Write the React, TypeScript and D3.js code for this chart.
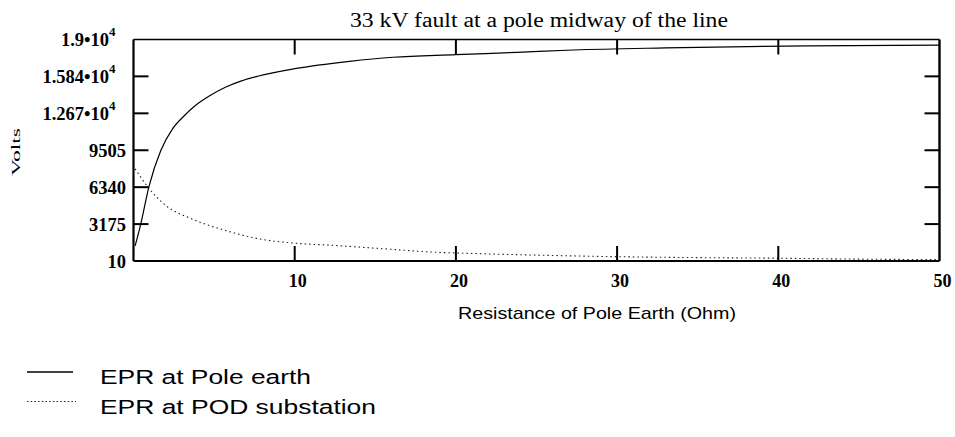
import React from "react";
import * as d3 from "d3";

// Resistance of pole earth (Ohm) vs EPR at pole earth (V)
const poleR = [0.1, 0.45, 0.95, 1.7, 2.4, 3.1, 3.8, 4.7, 5.7, 6.7, 7.7, 10, 13.4, 16.1, 20, 23.8, 27.3, 33, 41.8, 50];
const poleV = [1300, 3175, 6340, 9505, 11300, 12400, 13300, 14150, 14900, 15450, 15850, 16500, 17130, 17480, 17700, 17900, 18100, 18280, 18460, 18520];

// Resistance vs EPR at POD substation (V)
const podR = [0.1, 0.95, 2, 3.6, 5.7, 7.75, 10, 12.4, 15.5, 18.6, 21.7, 25.8, 30, 35, 40, 45, 50];
const podV = [7910, 6250, 4770, 3630, 2630, 1920, 1540, 1350, 1060, 770, 630, 490, 380, 300, 250, 170, 130];

const xTicks = [10, 20, 30, 40, 50];
const yTicks = [10, 3175, 6340, 9505, 12670, 15840, 19000];
const yTickBase = ["10", "3175", "6340", "9505", "1.267•10", "1.584•10", "1.9•10"];
const yTickExp = ["", "", "", "", "4", "4", "4"];

const title = "33 kV fault at a pole midway of the line";
const xTitle = "Resistance of Pole Earth (Ohm)";
const yTitle = "Volts";
const legendLabels = ["EPR at Pole earth", "EPR at POD substation"];

const SERIF = "'Liberation Serif', 'Times New Roman', serif";
const SANS = "'Liberation Sans', Arial, sans-serif";

export default function App() {
  const left = 133.5, right = 939.5, top = 39.5, bottom = 261;
  const x = d3.scaleLinear().domain([0, 50]).range([left, right]);
  const y = d3.scaleLinear().domain([10, 19000]).range([bottom, top]);

  const line = d3
    .line<[number, number]>()
    .x((d) => x(d[0]))
    .y((d) => y(d[1]))
    .curve(d3.curveMonotoneX);

  const poleData = poleR.map((r, i) => [r, poleV[i]] as [number, number]);
  const podData = podR.map((r, i) => [r, podV[i]] as [number, number]);
  const tickLen = 15;

  return (
    <svg
      width={955}
      height={437}
      style={{ position: "absolute", left: 0, top: 0, background: "#fff" }}
    >
      <rect x={0} y={0} width={955} height={437} fill="#fff" />
      {/* title */}
      <text
        x={539}
        y={27}
        textAnchor="middle"
        fontFamily={SERIF}
        fontSize={20}
        textLength={378}
        lengthAdjust="spacingAndGlyphs"
      >
        {title}
      </text>

      {/* curves */}
      <path d={line(poleData) || ""} fill="none" stroke="#000" strokeWidth={1.2} />
      <path
        d={line(podData) || ""}
        fill="none"
        stroke="#222"
        strokeWidth={1.1}
        strokeDasharray="1.5,3"
      />

      {/* frame */}
      <line x1={left} x2={right} y1={top} y2={top} stroke="#000" strokeWidth={1.6} />
      <line x1={left} x2={right} y1={bottom} y2={bottom} stroke="#000" strokeWidth={2.2} />
      <line x1={left} x2={left} y1={top} y2={bottom} stroke="#000" strokeWidth={2.2} />
      <line x1={right} x2={right} y1={top} y2={bottom} stroke="#000" strokeWidth={2.4} />

      {/* y ticks */}
      {yTicks.map((v, i) => (
        <g key={"yt" + i}>
          {i > 0 && i < yTicks.length - 1 && (
            <>
              <line x1={left} x2={left + tickLen} y1={y(v)} y2={y(v)} stroke="#000" strokeWidth={2} />
              <line x1={right - tickLen} x2={right} y1={y(v)} y2={y(v)} stroke="#000" strokeWidth={2} />
            </>
          )}
          <text
            x={yTickExp[i] ? 115.5 : 126}
            y={y(v) + 6.5}
            textAnchor="end"
            fontFamily={SERIF}
            fontWeight="bold"
            fontSize={18.5}
          >
            {yTickBase[i]}
            {yTickExp[i] && (
              <tspan fontSize={13} dy={-10}>
                {yTickExp[i]}
              </tspan>
            )}
          </text>
        </g>
      ))}

      {/* x ticks */}
      {xTicks.map((v, i) => (
        <g key={"xt" + i}>
          {v < 50 && (
            <>
              <line x1={x(v)} x2={x(v)} y1={bottom} y2={bottom - tickLen} stroke="#000" strokeWidth={2} />
              <line x1={x(v)} x2={x(v)} y1={top} y2={top + tickLen} stroke="#000" strokeWidth={2} />
            </>
          )}
          <text
            x={x(v) + 3}
            y={287}
            textAnchor="middle"
            fontFamily={SERIF}
            fontWeight="bold"
            fontSize={18}
          >
            {String(v)}
          </text>
        </g>
      ))}

      {/* axis titles */}
      <text
        x={597}
        y={319}
        textAnchor="middle"
        fontFamily={SANS}
        fontSize={17}
        textLength={278}
        lengthAdjust="spacingAndGlyphs"
      >
        {xTitle}
      </text>
      <text
        transform="translate(20,152) rotate(-90)"
        textAnchor="middle"
        fontFamily={SERIF}
        fontSize={12}
        textLength={48}
        lengthAdjust="spacingAndGlyphs"
      >
        {yTitle}
      </text>

      {/* legend */}
      <line x1={27} x2={73} y1={372} y2={372} stroke="#000" strokeWidth={1.5} />
      <text
        x={100}
        y={384}
        fontFamily={SANS}
        fontSize={20.5}
        textLength={211}
        lengthAdjust="spacingAndGlyphs"
      >
        {legendLabels[0]}
      </text>
      <line
        x1={27}
        x2={76}
        y1={401.5}
        y2={401.5}
        stroke="#222"
        strokeWidth={1.2}
        strokeDasharray="1.5,2.2"
      />
      <text
        x={100}
        y={414}
        fontFamily={SANS}
        fontSize={20.5}
        textLength={276}
        lengthAdjust="spacingAndGlyphs"
      >
        {legendLabels[1]}
      </text>
    </svg>
  );
}
